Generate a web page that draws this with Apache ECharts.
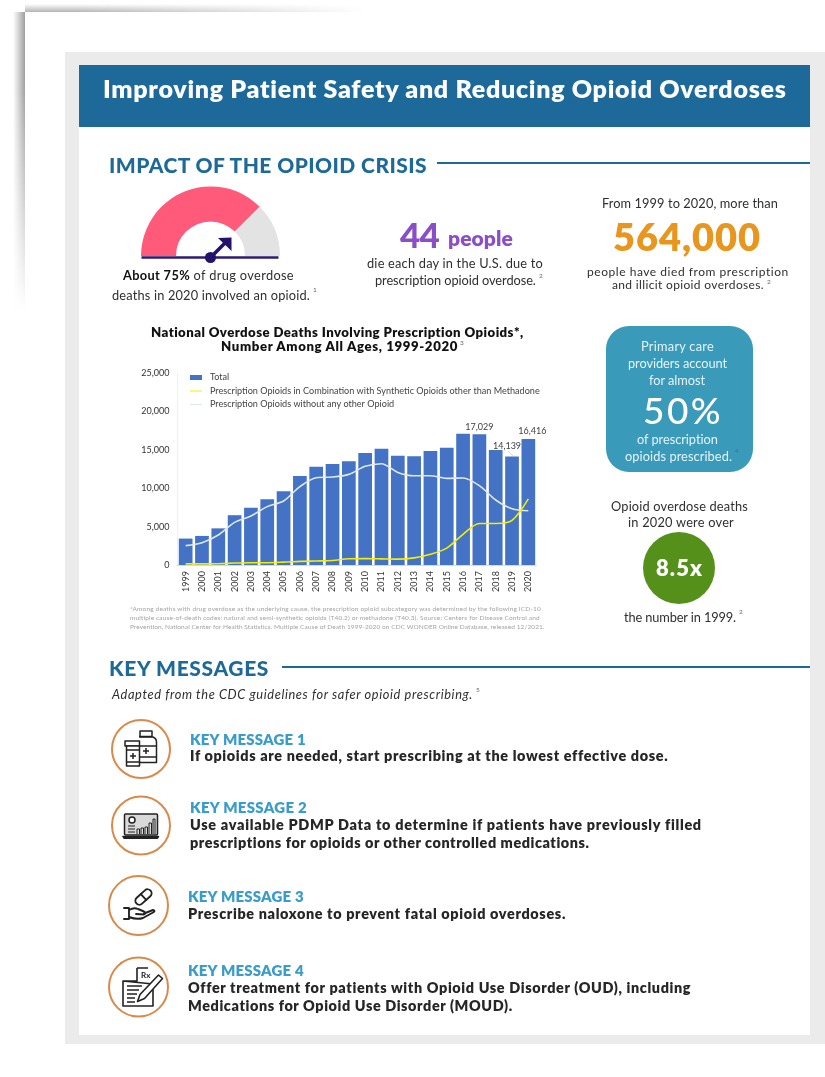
<!DOCTYPE html>
<html>
<head>
<meta charset="utf-8">
<title>Improving Patient Safety and Reducing Opioid Overdoses</title>
<script src="https://cdn.jsdelivr.net/npm/echarts@6/dist/echarts.min.js"></script>
<style>
  html, body { margin: 0; padding: 0; background: #fff; }
  #page { position: relative; width: 825px; height: 1077px; overflow: hidden; background: #fff; font-family: Lato, sans-serif; }
  .box { position: absolute; }
  .t { position: absolute; white-space: nowrap; line-height: 1; transform: translateY(-50%); color: #2f2f2f; }
  #icons { position: absolute; left: 0; top: 0; }
</style>
</head>
<body>
<div id="page">
  <div class="box" style="left:25px;top:4px;width:340px;height:8px;background:linear-gradient(to bottom,rgba(130,130,130,0),rgba(130,130,130,.6));-webkit-mask-image:linear-gradient(to right,#000 15%,transparent)"></div>
  <div class="box" style="left:13px;top:12px;width:12px;height:300px;background:linear-gradient(to right,rgba(120,120,120,0),rgba(120,120,120,.7));-webkit-mask-image:linear-gradient(to bottom,#000 25%,transparent)"></div>
  <div class="box" style="left:65px;top:52px;width:760px;height:992px;background:#ebebeb"></div>
  <div class="box" style="left:79px;top:65px;width:731px;height:970px;background:#fff"></div>
  <div class="box" style="left:79px;top:65px;width:731px;height:62px;background:#1d6a9a"></div>
  <div class="box" style="left:437px;top:162px;width:373px;height:2px;background:#1d6a9a"></div>
  <div class="box" style="left:282px;top:666px;width:528px;height:2px;background:#1d6a9a"></div>
  <div class="box" style="left:606px;top:326px;width:147px;height:146px;border-radius:23px;background:#3a9aba"></div>
  <div class="box" style="left:643px;top:532px;width:72px;height:72px;border-radius:50%;background:#55901a"></div>

  <div id="gauge" class="box" style="left:130px;top:175px;width:160px;height:90px"></div>
  <div id="chart" class="box" style="left:120px;top:355px;width:440px;height:245px"></div>

  <svg id="icons" width="825" height="1077" viewBox="0 0 825 1077" fill="none">
    <!-- gauge needle -->
    <line x1="141.5" y1="257.5" x2="278.5" y2="257.5" stroke="#2d1a77" stroke-width="2.6"/>
    <circle cx="210.5" cy="257.5" r="5.5" fill="#25106e"/>
    <line x1="211" y1="257" x2="225" y2="243" stroke="#25106e" stroke-width="3.6"/>
    <path d="M231.5 237.5 L231.5 251 L218 238 Z" fill="#25106e"/>

    <!-- leader from the 2019 value to its bar -->
    <line x1="508" y1="451" x2="513" y2="456" stroke="#cfcfcf" stroke-width="0.8"/>

    <!-- key message badges -->
    <g stroke="#d98a4a" stroke-width="2">
      <circle cx="141" cy="749" r="29"/>
      <circle cx="141" cy="825.5" r="29"/>
      <circle cx="138.5" cy="905.5" r="29.5"/>
      <circle cx="138.5" cy="987" r="29.5"/>
    </g>

    <!-- medicine bottles -->
    <g stroke="#222" stroke-width="1.5" stroke-linejoin="round">
      <rect x="140" y="731" width="12" height="5.5"/>
      <path d="M139 737 h14 q3.5 1.5 3.5 5 v20.5 h-17"/>
      <line x1="139" y1="746" x2="156.5" y2="746"/>
      <line x1="139" y1="757" x2="156.5" y2="757"/>
      <rect x="125" y="741" width="14.5" height="5" fill="#fff"/>
      <rect x="126.5" y="746" width="13" height="20" fill="#fff"/>
      <line x1="126.5" y1="750" x2="139.5" y2="750"/>
      <line x1="126.5" y1="762" x2="139.5" y2="762"/>
      <path d="M133 753 v6 M130 756 h6 M146 748 v6 M143 751 h6"/>
    </g>

    <!-- laptop with dashboard -->
    <g stroke="#222" stroke-width="1.5" stroke-linejoin="round">
      <rect x="124.5" y="814" width="33" height="21" rx="1" fill="#d9d9d9"/>
      <path d="M123 836.5 h35.5 l-1 1.7 h-33.5 Z" fill="#222"/>
      <circle cx="132" cy="820" r="3" fill="#fff"/>
      <path d="M137 834 v-5 h2.5 v5 M141 834 v-6 h2.5 v6 M145 834 v-7 h2.5 v7 M149 834 v-11 h2.5 v11 M153 834 v-15 h2 v15" stroke-width="1"/>
      <path d="M128 826 h7 M128 829 h7 M128 832 h7" stroke-width="1"/>
    </g>

    <!-- capsule over an open hand -->
    <g stroke="#222" stroke-width="1.9" stroke-linejoin="round" stroke-linecap="round">
      <g transform="rotate(-42 143.5 897)">
        <rect x="134" y="893" width="19" height="8" rx="4"/>
        <line x1="143.5" y1="893" x2="143.5" y2="901"/>
      </g>
      <path d="M124 908 h5 v11 h-5 M129 910 q5 -3 9 -1 l6 2.5 q3 1.5 0 3 l-8 -.5 M129 917 q8 3 14 1 l10 -5.5 q3 -2 0 -2.5 l-9 3.5"/>
    </g>

    <!-- prescription form and pencil -->
    <g stroke="#222" stroke-width="1.6" stroke-linejoin="round">
      <path d="M137 968 H148 M153 984 V1006 H123 V981 Z M123 981 H137 V968"/>
      <path d="M127 986 h15 M127 990 h12 M127 994 h10 M127 998 h8 M127 1002 h8" stroke-width="1.3"/>
      <path d="M158.5 975 l4 3.5 l-18 20 l-7 3 l2.5 -7 Z" fill="#fff"/>
      <text x="141" y="977.5" fill="#222" stroke="none" font-size="8" font-weight="700" font-family="Lato">Rx</text>
    </g>
  </svg>
</div>

<script>
// Annual U.S. deaths involving prescription opioids, all ages
const years = ['1999','2000','2001','2002','2003','2004','2005','2006','2007','2008','2009','2010','2011','2012','2013','2014','2015','2016','2017','2018','2019','2020'];
const totalDeaths = [3442,3785,4770,6483,7456,8577,9612,11589,12796,13149,13523,14583,15140,14240,14145,14838,15281,17087,17029,14975,14139,16416];
const withSynthetics = [150,150,170,260,300,300,370,470,520,590,810,830,800,760,930,1400,2200,4000,5400,5400,5800,8600];
const withoutOtherOpioid = [2520,2900,3900,5550,6380,7600,8330,10200,11370,11450,11800,12850,13190,12060,11630,11630,11280,11330,10330,8460,7330,7070];
const labelledYears = ['2017','2019','2020'];
const yTicks = { max: 25000, step: 5000 };

// Share of 2020 overdose deaths involving an opioid, and the remainder
const opioidShare = [75, 25];

// Text lines: [html, left, right, centre y, size, weight, colour, extra style]
const blue = '#1d6a9a', sky = '#3a9ccb', ink = '#2f2f2f', paper = '#fff';
const body = 12.8, note = 14.4;
const lines = [
  ['Improving Patient Safety and Reducing Opioid Overdoses',103,787,87.5,25,800,paper],
  ['IMPACT OF THE OPIOID CRISIS',109,427,163.5,21,900,blue],
  ['KEY MESSAGES',109,269,667,21,900,blue],
  ['<b style="color:#111">About 75%</b> of drug overdose',123,294,275,body,400,ink],
  ['deaths in 2020 involved an opioid.',112,310,295,body,400,ink],
  ['44',400,439,234,35,900,'#8a4fc7'],
  ['people',448,513,237,21,800,'#8a4fc7'],
  ['die each day in the U.S. due to',367,543,263,body,400,ink],
  ['prescription opioid overdose.',375,536,280,body,400,ink],
  ['From 1999 to 2020, more than',602,778,203,body,400,ink],
  ['564,000',613,761,236,38,800,'#e8961e'],
  ['people have died from prescription',587,789,271.5,12,400,ink],
  ['and illicit opioid overdoses.',612,764,285,12,400,ink],
  ['Primary care',641,714,346,body,400,'#e6f3f8'],
  ['providers account',628,727,363,body,400,'#e6f3f8'],
  ['for almost',649,705,380,body,400,'#e6f3f8'],
  ['50%',643,723,409,37,500,paper],
  ['of prescription',637,718,439,body,400,'#e6f3f8'],
  ['opioids prescribed.',625,732,456,body,400,'#e6f3f8'],
  ['Opioid overdose deaths',611,748,506,body,400,ink],
  ['in 2020 were over',628,734,522,body,400,ink],
  ['8.5x',656,703,568,22,800,paper],
  ['the number in 1999.',624,736,617,body,400,ink],
  ['National Overdose Deaths Involving Prescription Opioids*,',151,524,333,13.2,800,'#111'],
  ['Number Among All Ages, 1999-2020',221,458,347,13.2,800,'#111'],
  ['*Among deaths with drug overdose as the underlying cause, the prescription opioid subcategory was determined by the following ICD-10',130,541,609,6.5,400,'#a3a3a3'],
  ['multiple cause-of-death codes: natural and semi-synthetic opioids (T40.2) or methadone (T40.3). Source: Centers for Disease Control and',130,540,618,6.5,400,'#a3a3a3'],
  ['Prevention, National Center for Health Statistics. Multiple Cause of Death 1999-2020 on CDC WONDER Online Database, released 12/2021.',130,545,627,6.5,400,'#a3a3a3'],
  ['Adapted from the CDC guidelines for safer opioid prescribing.',112,473,694,12.8,400,ink,'font-style:italic'],
  ['KEY MESSAGE 1',190,306,739,15,800,sky],
  ['If opioids are needed, start prescribing at the lowest effective dose.',190,668,756,note,800,'#262626'],
  ['KEY MESSAGE 2',190,307,807,15,800,sky],
  ['Use available PDMP Data to determine if patients have previously filled',190,702,825,note,800,'#262626'],
  ['prescriptions for opioids or other controlled medications.',190,590,843,note,800,'#262626'],
  ['KEY MESSAGE 3',188,304,896,15,800,sky],
  ['Prescribe naloxone to prevent fatal opioid overdoses.',188,566,914,note,800,'#262626'],
  ['KEY MESSAGE 4',188,304,970,15,800,sky],
  ['Offer treatment for patients with Opioid Use Disorder (OUD), including',188,691,988,note,800,'#262626'],
  ['Medications for Opioid Use Disorder (MOUD).',188,513,1006,note,800,'#262626']
];

// Footnote markers: [number, x, y]
const notes = [['1',313,290],['2',539,276],['2',767,282],['3',460,343],['4',735,451],['2',739,612],['5',476,690]];

const page = document.getElementById('page');
lines.forEach(([html, left, right, y, size, weight, colour, extra]) => {
  const el = document.createElement('div');
  el.className = 't';
  el.innerHTML = html;
  el.style.cssText = `left:${left}px;top:${y}px;font-size:${size}px;font-weight:${weight};color:${colour};${extra || ''}`;
  page.appendChild(el);
  // Spread or tighten each line so it spans its measured column width
  const chars = el.textContent.length;
  const spare = (right - left) - el.getBoundingClientRect().width;
  el.style.letterSpacing = (spare / chars).toFixed(3) + 'px';
});
notes.forEach(([mark, x, y]) => {
  const el = document.createElement('div');
  el.className = 't';
  el.textContent = mark;
  el.style.cssText = `left:${x}px;top:${y}px;font-size:6.5px;color:#666`;
  page.appendChild(el);
});

const fmt = v => v.toLocaleString('en-US');
const thinLine = 'path://M0,0L0,0M0,2H12V3H0ZM12,5L12,5';

const gauge = echarts.init(document.getElementById('gauge'));
gauge.setOption({
  animation: false,
  series: [{
    type: 'pie',
    silent: true,
    center: [80.5, 81],
    radius: [34.5, 69.5],
    startAngle: 180,
    label: { show: false },
    labelLine: { show: false },
    data: [
      { value: opioidShare[0], itemStyle: { color: '#ff5a7a' } },
      { value: opioidShare[1], itemStyle: { color: '#e3e3e3' } },
      { value: opioidShare[0] + opioidShare[1], itemStyle: { color: 'transparent' } }
    ]
  }]
});

const chart = echarts.init(document.getElementById('chart'));
const labelShift = { '2017': [0, 0], '2019': [-5, -3], '2020': [4, 0] };
chart.setOption({
  animation: false,
  textStyle: { fontFamily: 'Lato, sans-serif' },
  grid: { left: 57.5, top: 18, width: 359, height: 192 },
  legend: {
    orient: 'vertical',
    left: 65,
    top: 13,
    itemWidth: 12,
    itemHeight: 5,
    itemGap: 4.5,
    selectedMode: false,
    textStyle: { fontSize: 9.1, color: '#444', padding: [0, 0, 0, 3] },
    data: [
      { name: 'Total', icon: 'rect' },
      { name: 'Prescription Opioids in Combination with Synthetic Opioids other than Methadone', icon: thinLine },
      { name: 'Prescription Opioids without any other Opioid', icon: thinLine }
    ]
  },
  xAxis: {
    type: 'category',
    data: years,
    axisLine: { lineStyle: { color: '#d9d9d9' } },
    axisTick: { show: false },
    axisLabel: { rotate: 90, fontSize: 9, color: '#333', margin: 6, interval: 0 }
  },
  yAxis: {
    type: 'value',
    min: 0,
    max: yTicks.max,
    interval: yTicks.step,
    axisLine: { show: true, lineStyle: { color: '#f0f0f0' } },
    axisTick: { show: false },
    splitLine: { show: false },
    axisLabel: { fontSize: 9, color: '#333', margin: 8, formatter: fmt }
  },
  series: [
    {
      name: 'Total',
      type: 'bar',
      barCategoryGap: '16%',
      itemStyle: { color: '#4472c4' },
      data: totalDeaths.map((value, i) => ({
        value,
        label: {
          show: labelledYears.includes(years[i]),
          position: 'top',
          distance: 3,
          fontSize: 9,
          color: '#404040',
          formatter: p => fmt(p.value)
        }
      })),
      labelLayout: p => {
        const shift = labelShift[years[p.dataIndex]] || [0, 0];
        return { dx: shift[0], dy: shift[1] };
      },
      labelLine: { show: false }
    },
    {
      name: 'Prescription Opioids in Combination with Synthetic Opioids other than Methadone',
      type: 'line',
      smooth: 0.3,
      symbol: 'none',
      z: 4,
      lineStyle: { color: '#f5ee00', width: 1.6 },
      itemStyle: { color: '#f5ee00' },
      data: withSynthetics
    },
    {
      name: 'Prescription Opioids without any other Opioid',
      type: 'line',
      smooth: 0.3,
      symbol: 'none',
      z: 3,
      lineStyle: { color: '#dfe8e2', width: 1.6 },
      itemStyle: { color: '#dfe8e2' },
      data: withoutOtherOpioid
    }
  ]
});
</script>
</body>
</html>
